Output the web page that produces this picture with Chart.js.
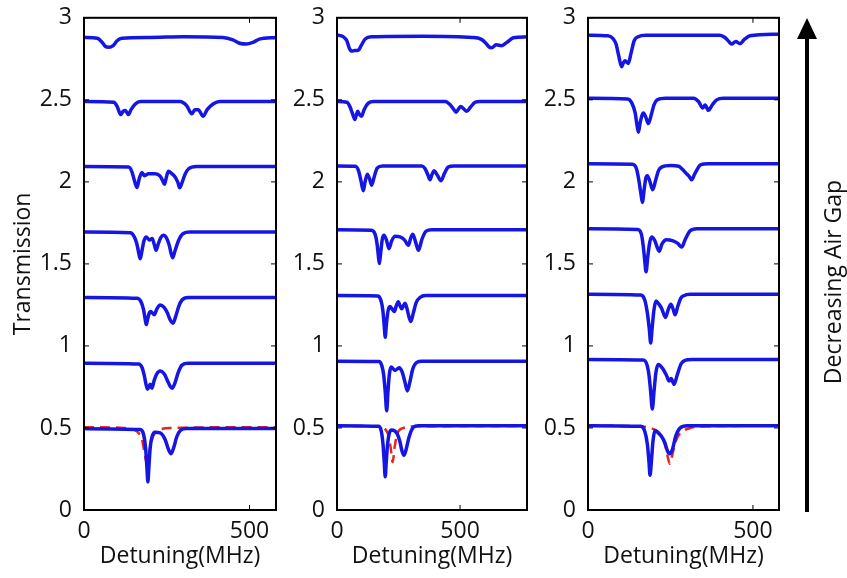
<!DOCTYPE html>
<html lang="en">
<head>
  <meta charset="UTF-8" />
  <title>Transmission vs Detuning</title>
  <script src="https://cdn.jsdelivr.net/npm/chart.js"></script>
  <style>
    body { margin: 0; background: #fff; }
    #wrap { position: relative; width: 847px; height: 578px; }
    canvas { position: absolute; top: 0; }
  </style>
</head>
<body>
<div id="wrap">
  <canvas id="c1" width="282" height="578" style="left:0px"></canvas>
  <canvas id="c2" width="250" height="578" style="left:282px"></canvas>
  <canvas id="c3" width="315" height="578" style="left:532px"></canvas>
</div>

<script>
// ---- panel 1 (left), detuning 0..580 MHz ----
const p1_t1 = [[0,0.496],[170,0.49],[180,0.46],[186,0.38],[190,0.26],[193,0.171],[196,0.26],[200,0.38],[206,0.45],[215,0.474],[230,0.47],[245,0.43],[255,0.37],[263,0.343],[271,0.38],[280,0.445],[291,0.484],[310,0.496],[580,0.496]];
const p1_t2 = [[0,0.895],[165,0.89],[175,0.87],[182,0.82],[188,0.76],[192,0.736],[197,0.755],[200,0.766],[205,0.742],[212,0.79],[220,0.83],[230,0.847],[242,0.83],[252,0.79],[260,0.755],[266,0.742],[274,0.77],[285,0.84],[296,0.883],[315,0.895],[580,0.895]];
const p1_t3 = [[0,1.295],[160,1.29],[172,1.27],[180,1.22],[185,1.16],[188,1.13],[193,1.17],[198,1.205],[202,1.21],[207,1.2],[212,1.19],[220,1.225],[230,1.25],[242,1.235],[252,1.2],[260,1.16],[269,1.139],[277,1.18],[286,1.24],[296,1.28],[315,1.295],[580,1.295]];
const p1_t4 = [[0,1.694],[140,1.69],[152,1.665],[160,1.62],[166,1.56],[170,1.532],[175,1.58],[181,1.64],[188,1.664],[198,1.645],[206,1.655],[212,1.62],[218,1.583],[224,1.62],[232,1.66],[240,1.674],[250,1.655],[258,1.61],[263,1.565],[268,1.537],[275,1.58],[285,1.64],[299,1.684],[320,1.694],[580,1.694]];
const p1_t5 = [[0,2.093],[135,2.09],[145,2.06],[152,2.01],[160,1.965],[167,2.02],[175,2.057],[183,2.037],[195,2.05],[215,2.05],[230,2.035],[237,2.01],[243,1.985],[249,2.03],[255,2.065],[265,2.05],[275,2.03],[283,2.0],[289,1.964],[297,2.0],[305,2.045],[316,2.08],[340,2.093],[580,2.093]];
const p1_t6 = [[0,2.49],[90,2.485],[100,2.46],[111,2.41],[118,2.43],[125,2.435],[134,2.41],[142,2.44],[155,2.475],[170,2.49],[290,2.49],[310,2.465],[326,2.415],[335,2.44],[345,2.44],[360,2.40],[372,2.44],[390,2.475],[410,2.49],[580,2.49]];
const p1_t7 = [[0,2.88],[40,2.875],[55,2.85],[65,2.825],[75,2.82],[88,2.83],[100,2.86],[115,2.875],[200,2.88],[300,2.885],[420,2.88],[450,2.865],[470,2.845],[490,2.84],[510,2.85],[530,2.87],[580,2.88]];
const p1_fit = [[0,0.505],[120,0.5],[150,0.49],[165,0.47],[175,0.43],[182,0.36],[190,0.282],[198,0.36],[205,0.43],[215,0.47],[230,0.49],[260,0.5],[580,0.505]];

// ---- panel 2 (middle), detuning 0..772 MHz ----
const p2_t1 = [[0,0.514],[170,0.51],[180,0.48],[187,0.4],[192,0.29],[196,0.202],[200,0.29],[206,0.41],[213,0.47],[222,0.488],[243,0.468],[255,0.42],[264,0.36],[272,0.333],[281,0.37],[292,0.44],[310,0.504],[330,0.514],[772,0.514]];
const p2_t2 = [[0,0.907],[170,0.905],[182,0.88],[190,0.82],[196,0.72],[202,0.605],[207,0.72],[213,0.83],[220,0.871],[236,0.851],[253,0.867],[265,0.84],[276,0.78],[286,0.726],[296,0.78],[308,0.86],[324,0.9],[345,0.907],[772,0.907]];
const p2_t3 = [[0,1.307],[165,1.305],[178,1.28],[186,1.22],[192,1.12],[196,1.053],[200,1.12],[207,1.21],[215,1.24],[224,1.225],[233,1.21],[241,1.245],[249,1.27],[256,1.245],[263,1.226],[270,1.245],[276,1.26],[284,1.23],[292,1.18],[300,1.149],[310,1.2],[322,1.265],[337,1.295],[360,1.307],[772,1.307]];
const p2_t4 = [[0,1.708],[140,1.705],[155,1.68],[163,1.62],[168,1.55],[172,1.502],[177,1.56],[184,1.65],[191,1.674],[201,1.645],[211,1.593],[222,1.64],[236,1.668],[256,1.665],[275,1.645],[290,1.613],[300,1.66],[308,1.68],[320,1.63],[331,1.583],[345,1.65],[362,1.70],[385,1.708],[772,1.708]];
const p2_t5 = [[0,2.097],[75,2.095],[87,2.07],[97,2.01],[107,1.946],[114,2.0],[123,2.047],[132,2.02],[141,1.98],[151,2.03],[164,2.085],[185,2.097],[345,2.097],[358,2.08],[370,2.04],[378,2.013],[386,2.045],[394,2.067],[408,2.04],[423,2.007],[436,2.05],[452,2.09],[475,2.097],[772,2.097]];
const p2_t6 = [[0,2.49],[40,2.485],[52,2.46],[62,2.42],[73,2.38],[79,2.41],[84,2.43],[92,2.41],[100,2.40],[110,2.44],[127,2.48],[150,2.49],[440,2.49],[460,2.47],[475,2.44],[484,2.425],[494,2.445],[503,2.46],[515,2.445],[527,2.43],[542,2.455],[561,2.485],[580,2.49],[772,2.49]];
const p2_t7 = [[0,2.895],[25,2.885],[40,2.86],[50,2.815],[60,2.797],[72,2.8],[87,2.803],[98,2.83],[114,2.87],[140,2.884],[350,2.887],[550,2.88],[585,2.87],[605,2.845],[618,2.822],[629,2.817],[646,2.835],[669,2.83],[690,2.85],[717,2.878],[772,2.884]];
const p2_fit = [[0,0.512],[150,0.51],[185,0.5],[200,0.485],[210,0.45],[218,0.38],[226,0.292],[234,0.38],[242,0.45],[252,0.485],[270,0.5],[320,0.51],[772,0.512]];

// ---- panel 3 (right), detuning 0..579 MHz ----
const p3_t1 = [[0,0.514],[160,0.51],[172,0.48],[180,0.4],[185,0.29],[188,0.212],[192,0.29],[197,0.42],[203,0.484],[213,0.47],[223,0.448],[233,0.41],[241,0.36],[248,0.343],[256,0.37],[266,0.45],[279,0.5],[300,0.514],[579,0.514]];
const p3_t2 = [[0,0.918],[165,0.915],[178,0.89],[185,0.82],[190,0.72],[195,0.615],[200,0.72],[206,0.84],[213,0.887],[226,0.863],[238,0.82],[246,0.786],[252,0.802],[261,0.766],[270,0.82],[282,0.89],[294,0.912],[315,0.918],[579,0.918]];
const p3_t3 = [[0,1.315],[160,1.31],[172,1.28],[180,1.2],[186,1.1],[190,1.018],[194,1.1],[200,1.22],[206,1.274],[215,1.255],[223,1.23],[235,1.174],[243,1.22],[251,1.254],[258,1.225],[264,1.19],[272,1.24],[281,1.29],[289,1.305],[310,1.315],[579,1.315]];
const p3_t4 = [[0,1.714],[150,1.71],[162,1.68],[168,1.6],[172,1.52],[176,1.452],[181,1.54],[187,1.63],[193,1.664],[203,1.64],[210,1.6],[216,1.577],[224,1.62],[238,1.647],[258,1.64],[272,1.625],[284,1.603],[295,1.65],[309,1.7],[330,1.714],[579,1.714]];
const p3_t5 = [[0,2.111],[135,2.108],[147,2.08],[155,2.0],[161,1.92],[165,1.875],[170,1.95],[175,2.02],[180,2.037],[188,2.0],[196,1.952],[205,2.01],[214,2.07],[223,2.09],[250,2.1],[275,2.095],[287,2.075],[296,2.055],[306,2.035],[314,2.013],[324,2.05],[342,2.105],[365,2.111],[579,2.111]];
const p3_t6 = [[0,2.51],[120,2.505],[133,2.48],[143,2.42],[149,2.34],[153,2.303],[158,2.36],[168,2.42],[176,2.39],[183,2.355],[192,2.41],[200,2.47],[210,2.5],[235,2.51],[320,2.51],[335,2.49],[348,2.45],[355,2.468],[365,2.436],[377,2.47],[390,2.5],[410,2.51],[579,2.51]];
const p3_t7 = [[0,2.894],[60,2.89],[75,2.875],[85,2.84],[93,2.77],[102,2.702],[107,2.725],[112,2.738],[117,2.73],[122,2.722],[130,2.78],[140,2.86],[152,2.885],[175,2.894],[400,2.894],[415,2.88],[427,2.855],[435,2.84],[448,2.855],[461,2.843],[475,2.87],[491,2.89],[579,2.9]];
const p3_fit = [[0,0.514],[150,0.51],[190,0.5],[210,0.48],[223,0.45],[233,0.4],[241,0.33],[248,0.282],[255,0.33],[263,0.4],[273,0.45],[287,0.48],[310,0.5],[360,0.51],[579,0.514]];

const xTicks = [0, 500];
const yTitle = 'Transmission';
const xTitle = 'Detuning(MHz)';
const arrowLabel = 'Decreasing Air Gap';

const FONT = '"Open Sans", "DejaVu Sans", sans-serif';
const BLUE = '#1616e4';
const RED = '#e8251c';

// inward ticks on all four sides + black frame, like the original matplotlib figure
const frameTicks = {
  id: 'frameTicks',
  afterDraw(chart) {
    const { ctx, chartArea: a, scales: { x, y } } = chart;
    ctx.save();
    ctx.strokeStyle = '#000';
    ctx.lineWidth = 1;
    ctx.beginPath();
    y.ticks.forEach(t => {
      const py = y.getPixelForValue(t.value);
      ctx.moveTo(a.left, py); ctx.lineTo(a.left + 5, py);
      ctx.moveTo(a.right, py); ctx.lineTo(a.right - 5, py);
    });
    x.ticks.forEach(t => {
      const px = x.getPixelForValue(t.value);
      ctx.moveTo(px, a.bottom); ctx.lineTo(px, a.bottom - 5);
      ctx.moveTo(px, a.top); ctx.lineTo(px, a.top + 5);
    });
    ctx.stroke();
    ctx.lineWidth = 2;
    ctx.strokeRect(a.left, a.top, a.right - a.left, a.bottom - a.top);
    ctx.restore();
  }
};

const gapArrow = {
  id: 'gapArrow',
  afterDraw(chart) {
    const ctx = chart.ctx;
    const ax = 275;
    ctx.save();
    ctx.strokeStyle = '#000';
    ctx.fillStyle = '#000';
    ctx.lineWidth = 4;
    ctx.beginPath();
    ctx.moveTo(ax, 512); ctx.lineTo(ax, 34);
    ctx.stroke();
    ctx.beginPath();
    ctx.moveTo(ax, 18); ctx.lineTo(ax - 10, 39); ctx.lineTo(ax + 10, 39);
    ctx.closePath();
    ctx.fill();
    ctx.translate(302, 282);
    ctx.rotate(-Math.PI / 2);
    ctx.font = '23px ' + FONT;
    ctx.fillStyle = '#111';
    ctx.textAlign = 'center';
    ctx.textBaseline = 'middle';
    ctx.fillText(arrowLabel, 0, 0);
    ctx.restore();
  }
};

function makePanel(id, traces, fit, xMax, yWidth, padRight, showYTitle, extra) {
  const datasets = traces.map(t => ({
    data: t, borderColor: BLUE, borderWidth: 3.5, pointRadius: 0,
    cubicInterpolationMode: 'monotone', fill: false
  }));
  datasets.push({
    data: fit, borderColor: RED, borderWidth: 2.5, borderDash: [10, 6],
    pointRadius: 0, cubicInterpolationMode: 'monotone', fill: false
  });
  return new Chart(document.getElementById(id), {
    type: 'line',
    data: { datasets },
    options: {
      responsive: false,
      devicePixelRatio: 1,
      animation: false,
      layout: { padding: { left: 0, top: 14, right: padRight, bottom: 0 } },
      plugins: { legend: { display: false }, tooltip: { enabled: false } },
      scales: {
        x: {
          type: 'linear', min: 0, max: xMax,
          grid: { display: false }, border: { display: false },
          afterBuildTicks: s => { s.ticks = xTicks.map(v => ({ value: v })); },
          afterFit: s => { s.height = 68; },
          ticks: { color: '#111', padding: 0, font: { family: FONT, size: 23 } },
          title: { display: true, text: xTitle, color: '#111', padding: { top: 0, bottom: 8 }, font: { family: FONT, size: 23 } }
        },
        y: {
          min: 0, max: 3,
          grid: { display: false }, border: { display: false },
          afterFit: s => { s.width = yWidth; },
          ticks: {
            stepSize: 0.5, color: '#111', padding: 4, font: { family: FONT, size: 23 },
            callback: v => String(Math.round(v * 10) / 10)
          },
          title: { display: showYTitle, text: yTitle, color: '#111', padding: { top: 10, bottom: 0 }, font: { family: FONT, size: 23 } }
        }
      }
    },
    plugins: [frameTicks].concat(extra)
  });
}

makePanel('c1', [p1_t1, p1_t2, p1_t3, p1_t4, p1_t5, p1_t6, p1_t7], p1_fit, 580, 84, 6, true, []);
makePanel('c2', [p2_t1, p2_t2, p2_t3, p2_t4, p2_t5, p2_t6, p2_t7], p2_fit, 772, 55, 5, false, []);
makePanel('c3', [p3_t1, p3_t2, p3_t3, p3_t4, p3_t5, p3_t6, p3_t7], p3_fit, 579, 56, 68, false, [gapArrow]);
</script>
</body>
</html>
